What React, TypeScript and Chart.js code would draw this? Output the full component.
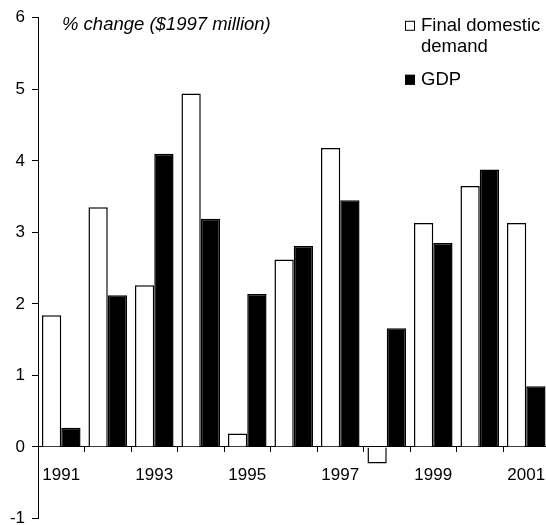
import React, { useEffect, useRef } from "react";
import { Chart, registerables } from "chart.js";

Chart.register(...registerables);

// Annual growth, % change in $1997 million
const years = ["1991", "1992", "1993", "1994", "1995", "1996", "1997", "1998", "1999", "2000", "2001"];
const finalDomesticDemand = [1.84, 3.35, 2.26, 4.94, 0.19, 2.62, 4.18, -0.23, 3.13, 3.65, 3.13];
const gdp = [0.27, 2.12, 4.1, 3.19, 2.14, 2.81, 3.45, 1.66, 2.85, 3.88, 0.85];
const seriesNames = ["Final domestic demand", "GDP"];
const unitsLabel = "% change ($1997 million)";
const yMin = -1;
const yMax = 6;

const FONT = '"Liberation Sans", Arial, Helvetica, sans-serif';
const CANVAS_W = 580;
const CANVAS_H = 540;

function wrapText(ctx: CanvasRenderingContext2D, text: string, maxWidth: number): string[] {
  const words = text.split(" ");
  const lines: string[] = [];
  let line = "";
  for (const w of words) {
    const test = line ? line + " " + w : w;
    if (line && ctx.measureText(test).width > maxWidth) {
      lines.push(line);
      line = w;
    } else {
      line = test;
    }
  }
  if (line) lines.push(line);
  return lines;
}

// Draws the units caption and the boxed legend inside the plot area
const overlayPlugin = {
  id: "overlay",
  afterDraw(chart: any) {
    const ctx: CanvasRenderingContext2D = chart.ctx;
    const area = chart.chartArea;
    ctx.save();
    ctx.fillStyle = "#000";
    ctx.textAlign = "left";
    ctx.textBaseline = "middle";
    ctx.font = `italic 18.5px ${FONT}`;
    ctx.fillText(unitsLabel, area.left + 24, area.top + 7);

    ctx.font = `18.5px ${FONT}`;
    const boxX = area.right - 144.5;
    const textX = boxX + 16;
    let y = area.top + 8;
    chart.data.datasets.forEach((ds: any) => {
      const lines = wrapText(ctx, ds.label, 128);
      ctx.fillStyle = ds.backgroundColor;
      ctx.fillRect(boxX, y - 5, 10, 10);
      ctx.strokeStyle = "#000";
      ctx.lineWidth = 1;
      ctx.strokeRect(boxX + 0.5, y - 4.5, 9, 9);
      ctx.fillStyle = "#000";
      lines.forEach((ln, i) => ctx.fillText(ln, textX, y + i * 21));
      y += lines.length * 21 + 12;
    });
    ctx.restore();
  },
};

export default function App() {
  const canvasRef = useRef<HTMLCanvasElement | null>(null);

  useEffect(() => {
    const canvas = canvasRef.current;
    if (!canvas) return;
    const chart = new Chart(canvas, {
      type: "bar",
      data: {
        labels: years,
        datasets: [
          {
            label: seriesNames[0],
            data: finalDomesticDemand,
            backgroundColor: "#ffffff",
            borderColor: "#000000",
            borderWidth: 1.5,
          },
          {
            label: seriesNames[1],
            data: gdp,
            backgroundColor: "#000000",
            borderColor: "#000000",
            borderWidth: 1.5,
          },
        ],
      },
      options: {
        responsive: false,
        animation: false,
        devicePixelRatio: 1,
        layout: {
          padding: { left: 0, right: CANVAS_W - 549.5, top: 17.8, bottom: CANVAS_H - 518.5 },
        },
        datasets: {
          bar: { categoryPercentage: 0.83, barPercentage: 1.0 },
        },
        plugins: {
          legend: { display: false },
          tooltip: { enabled: false },
          title: { display: false },
        },
        scales: {
          x: {
            type: "category",
            position: { y: 0 } as any,
            offset: true,
            grid: {
              display: true,
              offset: true,
              drawOnChartArea: false,
              drawTicks: true,
              tickLength: 5,
              color: "#000",
              lineWidth: 1,
            },
            border: { display: true, color: "#000", width: 1 },
            ticks: {
              autoSkip: false,
              maxRotation: 0,
              minRotation: 0,
              color: "#000",
              padding: 13,
              font: { family: FONT, size: 17 },
              callback: (_v: any, i: number) => (i % 2 === 0 ? years[i] : ""),
            },
            afterFit: (s: any) => {
              s.height = 0;
            },
          },
          y: {
            min: yMin,
            max: yMax,
            grid: {
              display: true,
              drawOnChartArea: false,
              drawTicks: true,
              tickLength: 6,
              color: "#000",
              lineWidth: 1,
            },
            border: { display: true, color: "#000", width: 1 },
            ticks: {
              stepSize: 1,
              color: "#000",
              padding: 7,
              font: { family: FONT, size: 17 },
            },
            afterFit: (s: any) => {
              s.width = 38;
            },
          },
        },
      },
      plugins: [overlayPlugin],
    });
    return () => chart.destroy();
  }, []);

  return (
    <div
      style={{
        position: "fixed",
        left: 0,
        top: 0,
        width: 546,
        height: 525,
        overflow: "hidden",
        background: "#fff",
      }}
    >
      <canvas
        ref={canvasRef}
        width={CANVAS_W}
        height={CANVAS_H}
        style={{ width: CANVAS_W, height: CANVAS_H, display: "block" }}
      />
    </div>
  );
}
